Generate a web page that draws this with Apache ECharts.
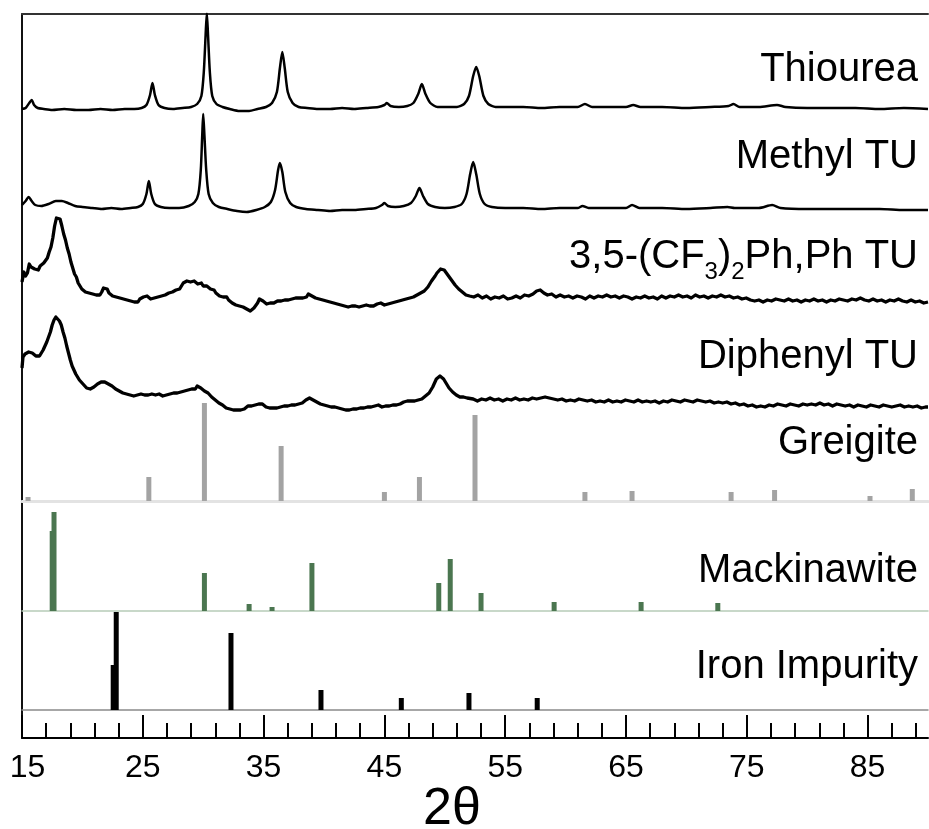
<!DOCTYPE html>
<html>
<head>
<meta charset="utf-8">
<script src="https://cdn.jsdelivr.net/npm/echarts@6/dist/echarts.min.js"></script>
<style>html,body{margin:0;padding:0;background:#fff}#c{width:929px;height:829px}</style>
</head>
<body>
<div id="c"></div>
<script>
// ---- data (2θ in degrees, intensity in arbitrary units relative to each trace's baseline) ----
const xMajorTicks = [15, 25, 35, 45, 55, 65, 75, 85];
const xMinorTicks = [15,17,19,21,23,25,27,29,31,33,35,37,39,41,43,45,47,49,51,53,55,57,59,61,63,65,67,69,71,73,75,77,79,81,83,85,87,89];
const traceNames = ['Thiourea', 'Methyl TU', '3,5-(CF3)2Ph,Ph TU', 'Diphenyl TU'];
const traceOffsets = [391, 291, 191, 91];

const thiourea = [
[15.0,1],[15.3,2],[15.6,7],[15.8,10],[16.0,5],[16.3,2],[16.8,1],[17.5,0],[18.5,1],[19.5,0],[20.5,0],[21.5,1],[22.5,0],[23.5,1],[24.3,1],[24.9,2],[25.3,5],[25.6,15],[25.8,27],[26.0,15],[26.3,5],[26.8,2],[27.5,1],[28.3,2],[29.0,3],[29.5,6],[29.85,14],[30.05,38],[30.2,75],[30.3,97],[30.4,75],[30.55,38],[30.75,14],[31.1,6],[31.6,3],[32.2,1],[33.0,-1],[33.8,-1],[34.5,1],[35.2,3],[35.7,7],[36.1,18],[36.35,42],[36.55,58],[36.75,42],[37.0,18],[37.4,7],[37.9,3],[38.6,2],[39.5,1],[40.5,1],[41.5,2],[42.5,1],[43.5,2],[44.5,3],[45.0,5],[45.2,7],[45.5,4],[46.2,3],[46.9,4],[47.4,7],[47.8,16],[48.1,26],[48.4,16],[48.8,7],[49.4,3],[50.2,3],[51.0,3],[51.6,6],[52.0,14],[52.35,34],[52.6,43],[52.85,34],[53.2,14],[53.6,6],[54.2,3],[55.0,3],[56.5,3],[58.0,2],[59.5,3],[61.0,3],[61.6,6],[62.2,3],[63.5,3],[65.0,3],[65.6,5],[66.2,3],[68.0,3],[70.0,2],[72.0,3],[73.5,4],[73.9,6],[74.4,3],[76.0,3],[77.5,5],[78.2,3],[80.0,2],[82.0,2],[84.0,2],[86.0,1],[88.0,2],[90.0,1]
];
const methylTU = [
[15.0,5],[15.3,9],[15.55,13],[15.8,9],[16.1,5],[16.6,4],[17.2,6],[17.8,9],[18.3,9],[18.8,7],[19.4,4],[20.0,3],[20.8,2],[21.6,1],[22.4,2],[23.2,1],[24.0,2],[24.6,3],[25.0,6],[25.3,16],[25.5,29],[25.7,16],[26.0,6],[26.5,3],[27.2,2],[28.0,2],[28.8,4],[29.3,8],[29.6,16],[29.8,40],[29.92,75],[30.0,96],[30.1,75],[30.25,40],[30.45,16],[30.8,7],[31.3,3],[32.0,1],[32.8,-1],[33.6,-2],[34.4,0],[35.1,3],[35.6,8],[35.95,20],[36.2,40],[36.35,47],[36.55,38],[36.8,18],[37.2,7],[37.7,3],[38.5,1],[39.5,0],[40.5,-1],[41.5,0],[42.5,0],[43.5,1],[44.3,2],[44.8,5],[45.0,7],[45.3,4],[45.9,3],[46.6,4],[47.2,7],[47.6,14],[47.9,22],[48.2,14],[48.6,6],[49.2,3],[50.0,2],[50.8,3],[51.4,6],[51.8,16],[52.1,36],[52.35,48],[52.6,36],[52.9,16],[53.3,6],[53.9,3],[55.0,2],[56.5,2],[58.0,1],[59.5,2],[61.0,2],[61.4,4],[61.9,2],[63.5,2],[65.0,2],[65.5,5],[66.1,2],[68.0,2],[70.0,1],[72.0,2],[73.4,3],[74.0,2],[76.0,2],[77.1,5],[77.8,2],[80.0,1],[82.0,1],[84.0,1],[86.0,1],[88.0,0],[90.0,0]
];
const cf3PhPhTU = [
[15.0,28],[15.15,38],[15.3,34],[15.45,37],[15.6,46],[15.75,43],[15.9,45],[16.05,41],[16.2,43],[16.35,40],[16.5,44],[16.65,43],[16.8,47],[16.95,46],[17.1,52],[17.25,58],[17.4,63],[17.55,72],[17.7,84],[17.85,92],[18.0,93],[18.15,91],[18.3,84],[18.45,76],[18.6,70],[18.75,62],[18.9,56],[19.05,48],[19.2,42],[19.35,36],[19.5,33],[19.65,27],[19.8,25],[19.95,21],[20.1,22],[20.25,18],[20.4,19],[20.55,17],[20.7,18],[20.85,16],[21.0,17],[21.15,15],[21.3,16],[21.45,15],[21.6,18],[21.75,22],[21.9,23],[22.05,21],[22.2,17],[22.35,16],[22.5,14],[22.65,15],[22.8,13],[22.95,14],[23.1,12],[23.25,13],[23.4,11],[23.55,12],[23.7,10],[23.85,11],[24.0,9],[24.15,10],[24.3,8],[24.45,9],[24.6,8],[24.75,11],[24.9,10],[25.05,13],[25.2,12],[25.35,14],[25.5,13],[25.65,11],[25.8,13],[25.95,12],[26.1,14],[26.25,13],[26.4,12],[26.55,14],[26.7,13],[26.85,15],[27.0,14],[27.15,17],[27.3,16],[27.45,18],[27.6,17],[27.75,20],[27.9,22],[28.05,21],[28.2,24],[28.35,27],[28.5,26],[28.65,29],[28.8,30],[28.95,28],[29.1,27],[29.25,29],[29.4,28],[29.55,26],[29.7,28],[29.85,27],[30.0,24],[30.15,26],[30.3,24],[30.45,22],[30.6,21],[30.75,19],[30.9,20],[31.05,17],[31.2,16],[31.35,14],[31.5,15],[31.65,13],[31.8,12],[31.95,13],[32.1,10],[32.25,9],[32.4,7],[32.55,8],[32.7,5],[32.85,6],[33.0,4],[33.15,5],[33.3,3],[33.45,4],[33.6,1],[33.75,2],[33.9,-1],[34.05,0],[34.2,2],[34.35,4],[34.5,7],[34.65,11],[34.8,12],[34.95,9],[35.1,11],[35.25,6],[35.4,8],[35.55,7],[35.7,9],[35.85,7],[36.0,8],[36.15,9],[36.3,7],[36.45,9],[36.6,8],[36.75,10],[36.9,9],[37.05,10],[37.2,9],[37.35,11],[37.5,10],[37.65,12],[37.8,11],[37.95,12],[38.1,13],[38.25,12],[38.4,14],[38.55,13],[38.7,16],[38.85,15],[39.0,14],[39.15,15],[39.3,12],[39.45,13],[39.6,11],[39.75,12],[39.9,10],[40.05,11],[40.2,9],[40.35,10],[40.5,8],[40.65,9],[40.8,7],[40.95,8],[41.1,6],[41.25,7],[41.4,5],[41.55,6],[41.7,4],[41.85,5],[42.0,3],[42.15,5],[42.3,4],[42.45,6],[42.6,4],[42.75,5],[42.9,3],[43.05,5],[43.2,4],[43.35,3],[43.5,5],[43.65,3],[43.8,4],[43.95,6],[44.1,4],[44.25,5],[44.4,6],[44.55,5],[44.7,7],[44.85,6],[45.0,5],[45.15,7],[45.3,6],[45.45,8],[45.6,7],[45.75,6],[45.9,8],[46.05,7],[46.2,9],[46.35,8],[46.5,10],[46.65,9],[46.8,11],[46.95,10],[47.1,12],[47.25,11],[47.4,13],[47.55,12],[47.7,15],[47.85,14],[48.0,17],[48.15,16],[48.3,19],[48.45,21],[48.6,23],[48.75,26],[48.9,29],[49.05,31],[49.2,34],[49.35,37],[49.5,39],[49.65,41],[49.8,42],[49.95,40],[50.1,38],[50.25,35],[50.4,33],[50.55,30],[50.7,29],[50.85,25],[51.0,24],[51.15,21],[51.3,19],[51.45,18],[51.6,16],[51.75,15],[51.9,16],[52.05,14],
[52.4,13],[52.75,15],[53.1,12],[53.45,14],[53.8,11],[54.15,13],[54.5,12],[54.85,14],[55.2,11],[55.55,12],[55.9,14],[56.25,12],[56.6,15],[56.95,14],[57.3,16],[57.6,19],[57.9,20],[58.2,17],[58.5,15],[58.85,16],[59.2,13],[59.55,15],[59.9,13],[60.25,14],[60.6,12],[60.95,14],[61.3,13],[61.65,11],[62.0,14],[62.35,12],[62.7,14],[63.05,13],[63.4,15],[63.75,13],[64.1,14],[64.45,12],[64.8,14],[65.15,13],[65.5,11],[65.85,13],[66.2,12],[66.55,14],[66.9,12],[67.25,13],[67.6,11],[67.95,14],[68.3,12],[68.65,14],[69.0,13],[69.35,15],[69.7,13],[70.05,14],[70.4,12],[70.75,15],[71.1,13],[71.45,14],[71.8,12],[72.15,14],[72.5,13],[72.85,15],[73.2,13],[73.55,14],[73.9,12],[74.25,13],[74.6,11],[74.95,12],[75.3,10],[75.65,9],[76.0,10],[76.35,8],[76.7,10],[77.05,9],[77.4,11],[77.75,10],[78.1,9],[78.45,11],[78.8,9],[79.15,10],[79.5,8],[79.85,10],[80.2,9],[80.55,11],[80.9,9],[81.25,10],[81.6,8],[81.95,10],[82.3,9],[82.65,11],[83.0,10],[83.35,9],[83.7,11],[84.05,10],[84.4,12],[84.75,10],[85.1,9],[85.45,11],[85.8,9],[86.15,10],[86.5,8],[86.85,10],[87.2,9],[87.55,11],[87.9,9],[88.25,8],[88.6,10],[88.95,8],[89.3,9],[89.65,7],[90.0,8]
];
const diphenylTU = [
[15.0,42],[15.08,53],[15.25,56],[15.4,55],[15.55,58],[15.7,56],[15.85,57],[16.0,55],[16.15,54],[16.3,52],[16.45,54],[16.6,57],[16.75,60],[16.9,64],[17.05,68],[17.2,73],[17.35,78],[17.5,85],[17.65,90],[17.8,93],[17.95,92],[18.1,89],[18.25,85],[18.4,78],[18.55,72],[18.7,64],[18.85,57],[19.0,50],[19.15,44],[19.3,40],[19.45,36],[19.6,33],[19.75,30],[19.9,28],[20.05,26],[20.2,24],[20.35,22],[20.5,20],[20.65,21],[20.8,22],[20.95,23],[21.1,25],[21.25,26],[21.4,27],[21.55,28],[21.7,27],[21.85,28],[22.0,27],[22.15,26],[22.3,25],[22.45,24],[22.6,22],[22.75,21],[22.9,20],[23.05,19],[23.2,18],[23.35,17],[23.5,18],[23.65,16],[23.8,17],[23.95,15],[24.1,16],[24.25,14],[24.4,16],[24.55,15],[24.7,14],[24.85,16],[25.0,14],[25.15,15],[25.3,13],[25.45,15],[25.6,14],[25.75,16],[25.9,14],[26.05,15],[26.2,14],[26.35,16],[26.5,15],[26.65,14],[26.8,16],[26.95,15],[27.1,14],[27.25,16],[27.4,15],[27.55,17],[27.7,16],[27.85,17],[28.0,16],[28.15,18],[28.3,17],[28.45,19],[28.6,18],[28.75,20],[28.9,19],[29.05,21],[29.2,22],[29.35,21],[29.5,24],[29.65,23],[29.8,22],[29.95,21],[30.1,19],[30.25,18],[30.4,17],[30.55,15],[30.7,13],[30.85,12],[31.0,10],[31.15,9],[31.3,7],[31.45,6],[31.6,5],[31.75,4],[31.9,2],[32.05,3],[32.2,1],[32.35,2],[32.5,0],[32.65,1],[32.8,0],[32.95,1],[33.1,0],[33.25,2],[33.4,1],[33.55,3],[33.7,4],[33.85,5],[34.0,4],[34.15,6],[34.3,5],[34.45,4],[34.6,6],[34.75,5],[34.9,6],[35.05,4],[35.2,3],[35.35,4],[35.5,2],[35.65,3],[35.8,2],[35.95,3],[36.1,2],[36.25,4],[36.4,3],[36.55,5],[36.7,4],[36.85,5],[37.0,4],[37.15,6],[37.3,5],[37.45,6],[37.6,5],[37.75,7],[37.9,6],[38.05,8],[38.2,7],[38.35,9],[38.5,10],[38.65,11],[38.8,12],[38.95,11],[39.1,10],[39.25,9],[39.4,8],[39.55,7],[39.7,6],[39.85,7],[40.0,5],[40.15,6],[40.3,4],[40.45,5],[40.6,3],[40.75,4],[40.9,3],[41.05,4],[41.2,2],[41.35,3],[41.5,1],[41.65,2],[41.8,0],[41.95,1],[42.1,0],[42.25,2],[42.4,1],[42.55,2],[42.7,1],[42.85,3],[43.0,2],[43.15,3],[43.3,2],[43.45,4],[43.6,3],[43.75,2],[43.9,3],[44.05,2],[44.2,4],[44.35,3],[44.5,5],[44.65,4],[44.8,3],[44.95,5],[45.1,4],[45.25,5],[45.4,4],[45.55,6],[45.7,5],[45.85,6],[46.0,5],[46.15,7],[46.3,6],[46.45,7],[46.6,8],[46.75,7],[46.9,9],[47.05,8],[47.2,9],[47.35,10],[47.5,9],[47.65,11],[47.8,10],[47.95,12],[48.1,11],[48.25,13],[48.4,14],[48.55,15],[48.7,17],[48.85,20],[49.0,23],[49.15,27],[49.3,31],[49.45,33],[49.6,34],[49.75,33],[49.9,31],[50.05,28],[50.2,25],[50.35,22],[50.5,20],[50.65,18],[50.8,16],[50.95,15],[51.1,14],[51.25,13],[51.4,12],[51.55,13],[51.7,11],[51.85,12],[52.0,10],
[52.35,11],[52.7,9],[53.05,11],[53.4,10],[53.75,12],[54.1,10],[54.45,11],[54.8,9],[55.15,11],[55.5,10],[55.85,12],[56.2,10],[56.55,11],[56.9,10],[57.25,12],[57.6,11],[57.95,12],[58.3,13],[58.65,12],[59.0,11],[59.35,10],[59.7,11],[60.05,9],[60.4,10],[60.75,9],[61.1,11],[61.45,10],[61.8,9],[62.15,10],[62.5,8],[62.85,9],[63.2,8],[63.55,10],[63.9,8],[64.25,9],[64.6,8],[64.95,10],[65.3,9],[65.65,8],[66.0,10],[66.35,8],[66.7,9],[67.05,8],[67.4,9],[67.75,7],[68.1,9],[68.45,8],[68.8,10],[69.15,9],[69.5,8],[69.85,10],[70.2,9],[70.55,8],[70.9,10],[71.25,9],[71.6,8],[71.95,9],[72.3,7],[72.65,8],[73.0,7],[73.35,8],[73.7,6],[74.05,7],[74.4,5],[74.75,6],[75.1,4],[75.45,5],[75.8,3],[76.15,4],[76.5,3],[76.85,5],[77.2,4],[77.55,6],[77.9,5],[78.25,4],[78.6,6],[78.95,5],[79.3,4],[79.65,6],[80.0,5],[80.35,6],[80.7,5],[81.05,7],[81.4,5],[81.75,6],[82.1,4],[82.45,6],[82.8,5],[83.15,4],[83.5,5],[83.85,3],[84.2,5],[84.55,4],[84.9,3],[85.25,5],[85.6,4],[85.95,3],[86.3,5],[86.65,4],[87.0,3],[87.35,4],[87.7,5],[88.05,3],[88.4,4],[88.75,3],[89.1,4],[89.45,2],[89.8,3],[90.0,3]
];
// reference stick patterns: [2θ, relative intensity]
const greigite = [[15.5,4],[25.5,24],[30.1,98],[36.45,55],[45.0,9],[47.9,24],[52.5,86],[61.6,9],[65.5,10],[73.7,9],[77.3,11],[85.2,5],[88.7,12]];
const mackinawite = [[17.5,80],[17.65,99],[30.1,38],[33.8,7],[35.7,4],[39.0,48],[49.5,28],[50.45,52],[53.0,18],[59.05,9],[66.25,9],[72.6,8]];
const ironImpurity = [[22.55,45],[22.8,98],[32.3,77],[39.75,20],[46.4,12],[52.0,17],[57.65,12]];

// ---- chart ----
const FONT = 'Liberation Sans, Arial, sans-serif';
const X_MIN = 15, X_MAX = 90;
const chart = echarts.init(document.getElementById('c'), null, {renderer: 'canvas'});

function hiddenX(gridIndex, lineColor, lineWidth) {
  return {
    type: 'value', gridIndex, min: X_MIN, max: X_MAX, position: 'bottom',
    axisLine: {show: !!lineColor, lineStyle: {color: lineColor || '#000', width: lineWidth || 1}},
    axisTick: {show: false}, axisLabel: {show: false}, splitLine: {show: false}
  };
}
function hiddenY(gridIndex, max) {
  return {type: 'value', gridIndex, min: 0, max, show: false, splitLine: {show: false}};
}
const gridBase = {left: 22, right: 1, outerBoundsMode: 'none', containLabel: false};

const traceSeries = [thiourea, methylTU, cf3PhPhTU, diphenylTU].map((d, i) => ({
  type: 'line', name: traceNames[i], xAxisIndex: 3, yAxisIndex: 1,
  data: d.map(p => [p[0], p[1] + traceOffsets[i]]),
  showSymbol: false, symbol: 'none', smooth: i < 2 ? 0.25 : false,
  lineStyle: {color: '#000', width: i < 2 ? 2.5 : 3.3, join: 'round'},
  clip: true, silent: true, z: 5
}));

const option = {
  animation: false,
  backgroundColor: '#fff',
  grid: [
    Object.assign({top: 14, bottom: 91}, gridBase),   // frame + main axis
    Object.assign({top: 14, bottom: 328}, gridBase),  // experimental traces
    Object.assign({top: 401, bottom: 328}, gridBase), // Greigite
    Object.assign({top: 511, bottom: 218}, gridBase), // Mackinawite
    Object.assign({top: 610, bottom: 119}, gridBase)  // Iron impurity
  ],
  xAxis: [
    { // 0: main axis with labelled major ticks
      type: 'value', gridIndex: 0, min: X_MIN, max: X_MAX, position: 'bottom',
      axisLine: {show: true, lineStyle: {color: '#000', width: 2}},
      axisTick: {show: true, inside: true, length: 23, lineStyle: {color: '#000', width: 2}, customValues: xMajorTicks},
      axisLabel: {
        show: true, customValues: xMajorTicks, margin: 14, color: '#000', fontSize: 32, fontFamily: FONT,
        formatter: v => v === 15 ? '{f|15}' : String(v),
        rich: {f: {fontSize: 32, fontFamily: FONT, color: '#000', padding: [0, 0, 0, 11]}}
      },
      splitLine: {show: false},
      name: '2θ', nameLocation: 'middle', nameGap: 46, nameMoveOverlap: false,
      nameTextStyle: {fontSize: 52, fontFamily: FONT, color: '#000', padding: [0, 46, 0, 0]}
    },
    { // 1: minor ticks
      type: 'value', gridIndex: 0, min: X_MIN, max: X_MAX, position: 'bottom',
      axisLine: {show: false},
      axisTick: {show: true, inside: true, length: 15, lineStyle: {color: '#000', width: 2}, customValues: xMinorTicks},
      axisLabel: {show: false}, splitLine: {show: false}
    },
    { // 2: top frame line
      type: 'value', gridIndex: 0, min: X_MIN, max: X_MAX, position: 'top',
      axisLine: {show: true, lineStyle: {color: '#333', width: 2}},
      axisTick: {show: false}, axisLabel: {show: false}, splitLine: {show: false}
    },
    hiddenX(1),
    hiddenX(2, '#e3e3e3', 3),
    hiddenX(3, '#b7cbb8', 1.5),
    hiddenX(4, '#8a8a8a', 1.5)
  ],
  yAxis: [
    {type: 'value', gridIndex: 0, min: 0, max: 1, position: 'left',
     axisLine: {show: true, lineStyle: {color: '#111', width: 2}},
     axisTick: {show: false}, axisLabel: {show: false}, splitLine: {show: false}},
    hiddenY(1, 487),
    hiddenY(2, 100),
    hiddenY(3, 100),
    hiddenY(4, 100)
  ],
  series: traceSeries.concat([
    {type: 'bar', name: 'Greigite', xAxisIndex: 4, yAxisIndex: 2, data: greigite, barWidth: 5,
     itemStyle: {color: '#a3a3a3'}, silent: true},
    {type: 'bar', name: 'Mackinawite', xAxisIndex: 5, yAxisIndex: 3, data: mackinawite, barWidth: 5,
     itemStyle: {color: '#4b7650'}, silent: true},
    {type: 'bar', name: 'Iron Impurity', xAxisIndex: 6, yAxisIndex: 4, data: ironImpurity, barWidth: 5,
     itemStyle: {color: '#000'}, silent: true}
  ]),
  graphic: [
    {type: 'text', right: 11, top: 70 - 27, style: {text: 'Thiourea', font: '40px ' + FONT, fill: '#000', lineHeight: 54}},
    {type: 'text', right: 11, top: 157 - 27, style: {text: 'Methyl TU', font: '40px ' + FONT, fill: '#000', lineHeight: 54}},
    {type: 'text', right: 11, top: 264 - 27, style: {
      text: '{m|3,5-(CF}{s|3}{m|)}{s|2}{m|Ph,Ph TU}', fill: '#000', font: '40px ' + FONT,
      rich: {
        m: {fontSize: 40, fontFamily: FONT, lineHeight: 54, fill: '#000'},
        s: {fontSize: 24, fontFamily: FONT, lineHeight: 24, verticalAlign: 'bottom', fill: '#000'}
      }}},
    {type: 'text', right: 11, top: 357 - 27, style: {text: 'Diphenyl TU', font: '40px ' + FONT, fill: '#000', lineHeight: 54}},
    {type: 'text', right: 11, top: 443 - 27, style: {text: 'Greigite', font: '40px ' + FONT, fill: '#000', lineHeight: 54}},
    {type: 'text', right: 11, top: 571 - 27, style: {text: 'Mackinawite', font: '40px ' + FONT, fill: '#000', lineHeight: 54}},
    {type: 'text', right: 11, top: 667 - 27, style: {text: 'Iron Impurity', font: '40px ' + FONT, fill: '#000', lineHeight: 54}}
  ]
};
chart.setOption(option);
</script>
</body>
</html>
